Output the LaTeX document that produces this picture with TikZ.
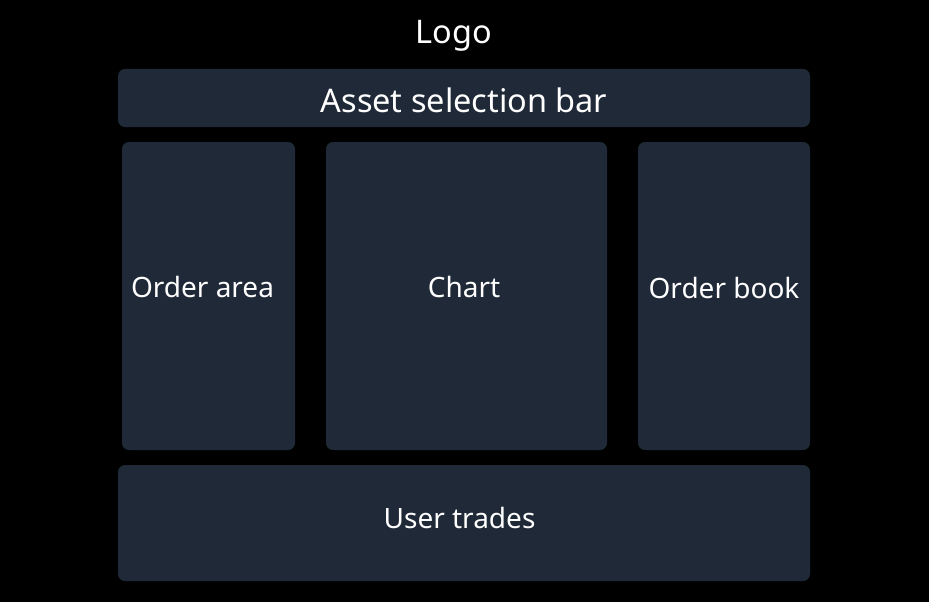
\documentclass[tikz,border=0pt]{standalone}
\usepackage{fontspec}
\setmainfont{Noto Sans}
\definecolor{panel}{HTML}{1F2937}
\begin{document}
\begin{tikzpicture}[x=1pt,y=-1pt,
  panelbox/.style={fill=panel,rounded corners=7pt},
  lbl/.style={text=white,font=\fontsize{28}{32}\selectfont,inner sep=0pt},
  biglbl/.style={lbl,font=\fontsize{32.5}{36}\selectfont}]
\fill[black] (0,0) rectangle (929,602);
\useasboundingbox (0,0) rectangle (929,602);
\node[biglbl] (logo) at (454,36) {Logo};
\fill[panelbox] (118,69) rectangle (810,127);
\node[biglbl] (asset) at (464,100) {Asset selection bar};
\fill[panelbox] (122,142) rectangle (295,450);
\node[lbl] (order) at (202.5,287) {Order area};
\fill[panelbox] (326,142) rectangle (607,450);
\node[lbl] (chart) at (464,287) {Chart};
\fill[panelbox] (638,142) rectangle (810,450);
\node[lbl] (book) at (724,288) {Order book};
\fill[panelbox] (118,465) rectangle (810,581);
\node[lbl] (trades) at (459.5,518) {User trades};
\end{tikzpicture}
\end{document}
